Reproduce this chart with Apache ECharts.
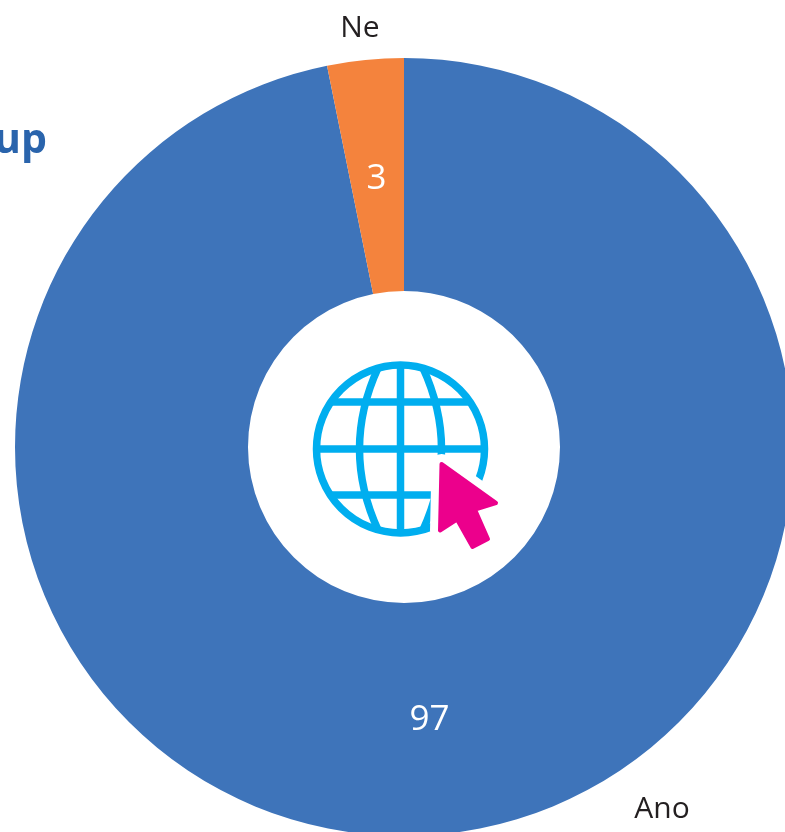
<!DOCTYPE html>
<html>
<head>
<meta charset="utf-8">
<style>html,body{margin:0;padding:0;background:#fff}#c{width:785px;height:832px}</style>
<script src="https://cdn.jsdelivr.net/npm/echarts@6/dist/echarts.min.js"></script>
</head>
<body>
<div id="c"></div>
<script>
const categories = ['Ano', 'Ne'];
const values = [96.83, 3.17];
const shownValues = [97, 3];
const sliceColors = ['#3E74BA', '#F4833D'];
const titleFragment = 'up';

const FONT = '"Open Sans", sans-serif';
const namePositions = [{x: 662, y: 809}, {x: 360, y: 28}];
const valueNudges = [{dx: -2, dy: -1}, {dx: 0, dy: 6}];
const chart = echarts.init(document.getElementById('c'), null, {renderer: 'canvas'});
const sliceData = categories.map((name, i) => ({name, value: values[i], itemStyle: {color: sliceColors[i]}}));
const ghostData = categories.map((name, i) => ({name, value: values[i]}));

const globeStroke = {stroke: '#00AEEF', lineWidth: 7.5, fill: null};
const cx = 400.5, cy = 449;
const cursor = [[441.5,464],[496,503],[475,509.5],[488,539],[472.5,547],[457,519.5],[440,530.5]];
const meridianCurves = [-1, 1].flatMap(side => [-1, 1].map(end => ({
  type: 'bezierCurve', z: 10,
  shape: {
    x1: cx + side * 22, y1: cy + end * 82,
    cpx1: cx + side * 35, cpy1: cy + end * 54,
    cpx2: cx + side * 41, cpy2: cy + end * 27,
    x2: cx + side * 41, y2: cy
  },
  style: globeStroke
})));

chart.setOption({
  animation: false,
  backgroundColor: '#fff',
  title: {
    text: titleFragment, left: -11, top: 116,
    textStyle: {color: '#2A64AC', fontFamily: FONT, fontWeight: 'bold', fontSize: 41}
  },
  series: [
    {
      type: 'pie', center: [404, 447], radius: [156, 389], startAngle: 90, clockwise: true,
      silent: true, z: 2, itemStyle: {borderWidth: 0},
      label: {position: 'inside', color: '#fff', fontFamily: FONT, fontSize: 35,
        formatter: p => String(shownValues[p.dataIndex])},
      labelLine: {show: false},
      labelLayout: p => valueNudges[p.dataIndex],
      data: sliceData
    },
    {
      type: 'pie', center: [404, 447], radius: [156, 389], startAngle: 90, clockwise: true,
      silent: true, z: 1, itemStyle: {color: 'transparent', borderWidth: 0},
      label: {position: 'outside', color: '#231F20', fontFamily: FONT, fontSize: 30, formatter: '{b}'},
      labelLine: {show: false},
      labelLayout: p => ({x: namePositions[p.dataIndex].x, y: namePositions[p.dataIndex].y, align: 'center', verticalAlign: 'middle'}),
      data: ghostData
    }
  ],
  graphic: {
    elements: [
      {type: 'circle', z: 10, shape: {cx, cy, r: 84}, style: globeStroke},
      ...meridianCurves,
      {type: 'line', z: 10, shape: {x1: cx, y1: cy - 84, x2: cx, y2: cy + 84}, style: globeStroke},
      {type: 'line', z: 10, shape: {x1: cx - 84, y1: cy, x2: cx + 84, y2: cy}, style: globeStroke},
      {type: 'line', z: 10, shape: {x1: cx - 69, y1: cy - 47, x2: cx + 69, y2: cy - 47}, style: globeStroke},
      {type: 'line', z: 10, shape: {x1: cx - 69, y1: cy + 46, x2: cx + 69, y2: cy + 46}, style: globeStroke},
      {type: 'polygon', z: 11, shape: {points: cursor}, style: {fill: '#fff', stroke: '#fff', lineWidth: 20, lineJoin: 'round'}},
      {type: 'polygon', z: 12, shape: {points: cursor}, style: {fill: '#EC008C', stroke: '#EC008C', lineWidth: 4, lineJoin: 'round'}}
    ]
  }
});
</script>
</body>
</html>
